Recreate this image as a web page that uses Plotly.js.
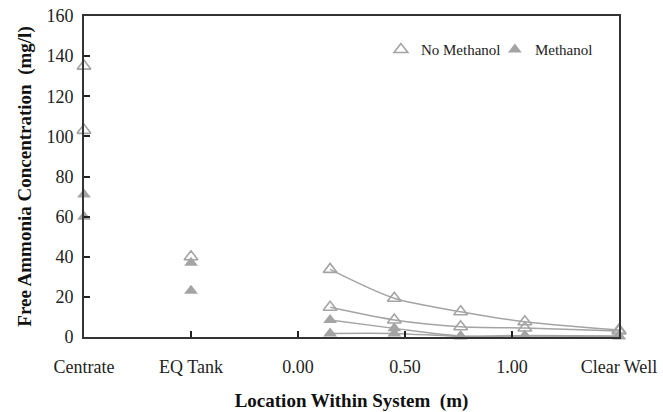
<!DOCTYPE html>
<html>
<head>
<meta charset="utf-8">
<script src="https://cdn.plot.ly/plotly-3.0.1.min.js"></script>
<style>html,body{margin:0;padding:0;background:#fff;}#chart{width:663px;height:412px;}</style>
</head>
<body>
<div id="chart"></div>
<script>
// Tick labels (evenly spaced category-like positions 0..5)
const tickLabels = ["Centrate", "EQ Tank", "0.00", "0.50", "1.00", "Clear Well"];
const tickPositions = [0, 1, 2, 3, 4, 5];

// Sample depths within the column (m); Clear Well follows last depth
const depths = [0.15, 0.45, 0.76, 1.06];

// Centrate and EQ tank samples (mg/l)
const centrateNoMeth = [135, 103];
const centrateMeth = [71, 60];
const eqNoMeth = [40];
const eqMeth = [37, 23];

// Column profiles: depths then Clear Well (mg/l)
const profileNoMeth1 = [33.7, 19.3, 12.6, 7.6, 3.5];
const profileNoMeth2 = [14.8, 8.5, 5.1, 4.5, 3.0];
const profileMeth1 = [8.5, 4.3, 0.5, 0.8, 0.5];
const profileMeth2 = [1.8, 1.8, 0.3, 0.5, 0.3];

// map depth (m) onto the axis: 0.00 -> position 2, 0.50 -> position 3 ...
const depthPos = depths.map(d => 2 + 2 * d);
const profileX = depthPos.concat([5]);

const grey = '#a4a4a4';
const openMarker = {symbol: 'triangle-up-open', size: 12, color: grey, line: {color: grey, width: 1.6}};
const fillMarker = {symbol: 'triangle-up', size: 12, color: grey, line: {color: grey, width: 0}};
const lineStyle = {color: grey, width: 1.5, shape: 'spline', smoothing: 0.8};

const traces = [
  {x: centrateNoMeth.map(() => 0).concat(eqNoMeth.map(() => 1)), y: centrateNoMeth.concat(eqNoMeth),
   mode: 'markers', marker: openMarker, name: 'No Methanol', legend: 'legend', showlegend: true, cliponaxis: false},
  {x: centrateMeth.map(() => 0).concat(eqMeth.map(() => 1)), y: centrateMeth.concat(eqMeth),
   mode: 'markers', marker: fillMarker, name: 'Methanol', legend: 'legend2', showlegend: true, cliponaxis: false},
  {x: profileX, y: profileMeth2, mode: 'lines+markers', marker: fillMarker, line: lineStyle, showlegend: false, cliponaxis: false},
  {x: profileX, y: profileMeth1, mode: 'lines+markers', marker: fillMarker, line: lineStyle, showlegend: false, cliponaxis: false},
  {x: profileX, y: profileNoMeth2, mode: 'lines+markers', marker: openMarker, line: lineStyle, showlegend: false, cliponaxis: false},
  {x: profileX, y: profileNoMeth1, mode: 'lines+markers', marker: openMarker, line: lineStyle, showlegend: false, cliponaxis: false}
];

const serif = 'Liberation Serif, Times New Roman, serif';
const legendFont = {family: serif, size: 15, color: '#222'};
const layout = {
  width: 663, height: 412,
  margin: {l: 84, r: 44, t: 16, b: 75},
  paper_bgcolor: '#fff', plot_bgcolor: '#fff',
  font: {family: serif, color: '#222', size: 18},
  showlegend: true,
  legend: {x: 0.555, y: 0.895, xanchor: 'left', yanchor: 'middle', orientation: 'h',
           font: legendFont, bgcolor: 'rgba(0,0,0,0)', itemwidth: 30},
  legend2: {x: 0.768, y: 0.895, xanchor: 'left', yanchor: 'middle', orientation: 'h',
           font: legendFont, bgcolor: 'rgba(0,0,0,0)', itemwidth: 30},
  xaxis: {
    range: [0, 5], tickmode: 'array', tickvals: tickPositions, ticktext: tickLabels,
    ticks: 'inside', ticklen: 6, tickwidth: 2, tickcolor: '#222',
    showline: true, linecolor: '#333', linewidth: 2, mirror: true,
    showgrid: false, zeroline: false, ticklabelstandoff: 12,
    tickfont: {family: serif, size: 18, color: '#222'},
    title: {text: '<b>Location Within System  (m)</b>', font: {family: serif, size: 19, color: '#111'}, standoff: 18}
  },
  yaxis: {
    range: [0, 160], dtick: 20, tick0: 0,
    ticks: 'inside', ticklen: 6, tickwidth: 2, tickcolor: '#222',
    showline: true, linecolor: '#333', linewidth: 2, mirror: true,
    showgrid: false, zeroline: false, ticklabelstandoff: 5,
    tickfont: {family: serif, size: 18, color: '#222'},
    title: {text: '<b>Free Ammonia Concentration  (mg/l)</b>', font: {family: serif, size: 19, color: '#111'}, standoff: 10}
  }
};

Plotly.newPlot('chart', traces, layout, {displayModeBar: false, staticPlot: true});
</script>
</body>
</html>
